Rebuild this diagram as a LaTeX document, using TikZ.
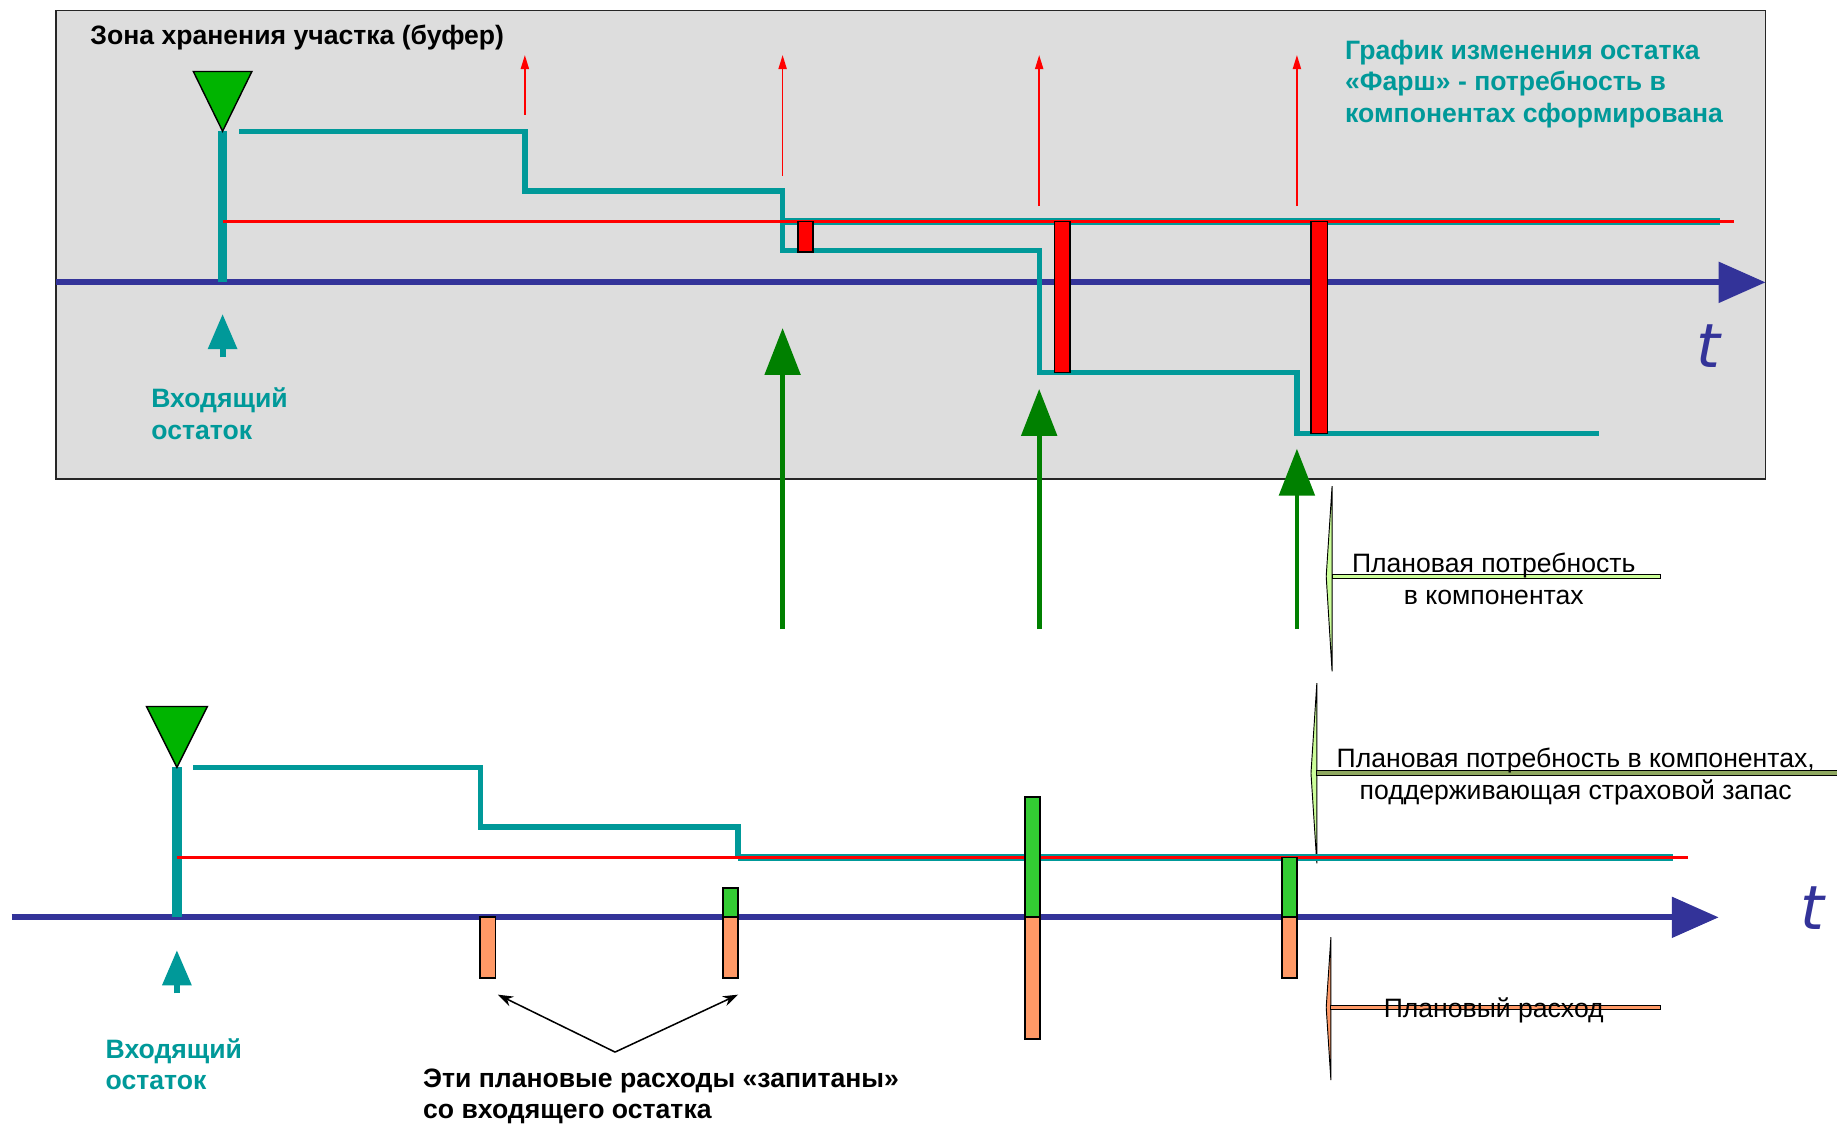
\documentclass[tikz,border=0pt]{standalone}
\usepackage{fontspec}
\setmainfont{Liberation Sans}
\newfontfamily\tfont{DejaVu Sans}
\usetikzlibrary{arrows.meta}
\definecolor{panelgray}{HTML}{DDDDDD}
\definecolor{axisblue}{HTML}{333399}
\definecolor{stockteal}{HTML}{009999}
\definecolor{levelred}{HTML}{FF0000}
\definecolor{markgreen}{HTML}{00B400}
\definecolor{demandgreen}{HTML}{008000}
\definecolor{bargreen}{HTML}{33CC33}
\definecolor{barorange}{HTML}{FF9966}
\definecolor{notegreen}{HTML}{CCFF99}
\definecolor{noteolive}{HTML}{8FA860}
\tikzset{
  axisline/.style={line width=5, axisblue, -{Triangle[length=40,width=34]}},
  stockline/.style={line width=4.5, stockteal},
  safetyline/.style={line width=6.5, stockteal},
  levelline/.style={line width=3.2, levelred},
  stockbar/.style={line width=8, stockteal},
  releasearrow/.style={line width=1.3, levelred, -{Triangle[length=12,width=7]}},
  demandarrow/.style={line width=4, demandgreen, -{Triangle[length=40,width=30]}},
  inarrow/.style={line width=5, stockteal, -{Triangle[length=30,width=24]}},
  pointer/.style={line width=1.3, black, -{Stealth[length=13,width=9]}},
  marker/.style={draw=black, line width=1.2, fill=markgreen},
  bar/.style={draw=black, line width=1.5},
  tlabel/.style={text=axisblue, font=\tfont\itshape\fontsize{52}{56}\selectfont, inner sep=0},
  boldtxt/.style={font=\bfseries\fontsize{22.7}{27}\selectfont, inner sep=0, align=left},
  notetxt/.style={font=\fontsize{22.7}{27.5}\selectfont, inner sep=0, align=center},
  calloutv/.style={draw=black, line width=0.8},
}
\begin{document}
\begin{tikzpicture}[x=1pt,y=-1pt]
\useasboundingbox (0,0) rectangle (1568,959);

% ---------- upper panel: storage zone ----------
\draw[fill=panelgray, draw=black!85, line width=1.6] (48,9) rectangle (1507,409);
\node[boldtxt, anchor=base west] (zone) at (77,38) {Зона хранения участка (буфер)};
\node[boldtxt, text=stockteal, anchor=north west] (graph) at (1148,34)
  {График изменения остатка\\«Фарш» - потребность в\\компонентах сформирована};

% time axis
\coordinate (a1s) at (48,241);
\coordinate (a1e) at (1507,241);
\draw[axisline] (a1s) -- (a1e);
\node[tlabel] (t1) at (1458,295) {t};

% incoming stock
\coordinate (in1) at (190,112);
\draw[stockbar] (190,241) -- (in1);
\draw[marker] (165,61) -- (215,61) -- (in1) -- cycle;
\draw[inarrow] (190,305) -- (190,268);
\node[boldtxt, text=stockteal, anchor=north west] (inc1) at (129,331) {Входящий\\остаток};

% stock profile
\draw[stockline] (204,112) -- (448,112) -- (448,163) -- (668,163) -- (668,214)
  -- (887,214) -- (887,318) -- (1107,318) -- (1107,370) -- (1365,370);
\draw[safetyline] (668,189) -- (1468,189);
\draw[levelline] (190,189) -- (1480,189);

% planned replenishment (red bars)
\draw[bar, fill=levelred] (681,189) rectangle (694,215);
\draw[bar, fill=levelred] (900,189) rectangle (913,318);
\draw[bar, fill=levelred] (1119,189) rectangle (1133,370);

% release signals
\draw[releasearrow] (448,98) -- (448,47);
\draw[releasearrow] (668,150) -- (668,47);
\draw[releasearrow] (887,176) -- (887,47);
\draw[releasearrow] (1107,176) -- (1107,47);

% demand arrows
\draw[demandarrow] (668,537) -- (668,280);
\draw[demandarrow] (887,537) -- (887,332);
\draw[demandarrow] (1107,537) -- (1107,383);

% ---------- callouts ----------
\draw[calloutv, fill=notegreen] (1137,415) -- (1132,492) -- (1137,573) -- cycle;
\draw[calloutv, fill=notegreen] (1137,490) rectangle (1417,494);
\node[notetxt] (n1) at (1275,494) {Плановая потребность\\в компонентах};

\draw[calloutv, fill=notegreen] (1124,583) -- (1119,660) -- (1124,737) -- cycle;
\draw[calloutv, fill=noteolive] (1124,658) rectangle (1570,662);
\node[notetxt] (n2) at (1345,663) {Плановая потребность в компонентах,\\поддерживающая страховой запас};

\draw[calloutv, fill=barorange] (1136,800) -- (1132,860) -- (1136,922) -- cycle;
\draw[calloutv, fill=barorange] (1136,858) rectangle (1417,862);
\node[notetxt] (n3) at (1275,862) {Плановый расход};

% ---------- lower chart ----------
\coordinate (a2s) at (10,783);
\coordinate (a2e) at (1467,783);
\draw[axisline] (a2s) -- (a2e);
\node[tlabel] (t2) at (1547,775) {t};

\coordinate (in2) at (151,655);
\draw[stockbar] (151,783) -- (in2);
\draw[marker] (125,603) -- (177,603) -- (in2) -- cycle;
\draw[inarrow] (151,848) -- (151,811);
\node[boldtxt, text=stockteal, anchor=north west] (inc2) at (90,886) {Входящий\\остаток};

\draw[stockline] (165,655) -- (410,655) -- (410,706) -- (630,706) -- (630,732);
\draw[safetyline] (630,732) -- (1428,732);
\draw[levelline] (151,732) -- (1441,732);

% planned consumption (orange) and replenishment (green)
\draw[bar, fill=barorange] (410,783) rectangle (423,835);
\draw[bar, fill=barorange] (617,783) rectangle (630,835);
\draw[bar, fill=bargreen] (617,758) rectangle (630,783);
\draw[bar, fill=barorange] (875,783) rectangle (888,887);
\draw[bar, fill=bargreen] (875,680) rectangle (888,783);
\draw[bar, fill=barorange] (1094,783) rectangle (1107,835);
\draw[bar, fill=bargreen] (1094,732) rectangle (1107,783);

\coordinate (fork) at (525,898);
\coordinate (c1) at (425,849);
\coordinate (c2) at (630,849);
\draw[pointer] (fork) -- (c1);
\draw[pointer] (fork) -- (c2);
\node[boldtxt, anchor=north west] (fed) at (361,912) {Эти плановые расходы «запитаны»\\со входящего остатка};
\end{tikzpicture}
\end{document}
